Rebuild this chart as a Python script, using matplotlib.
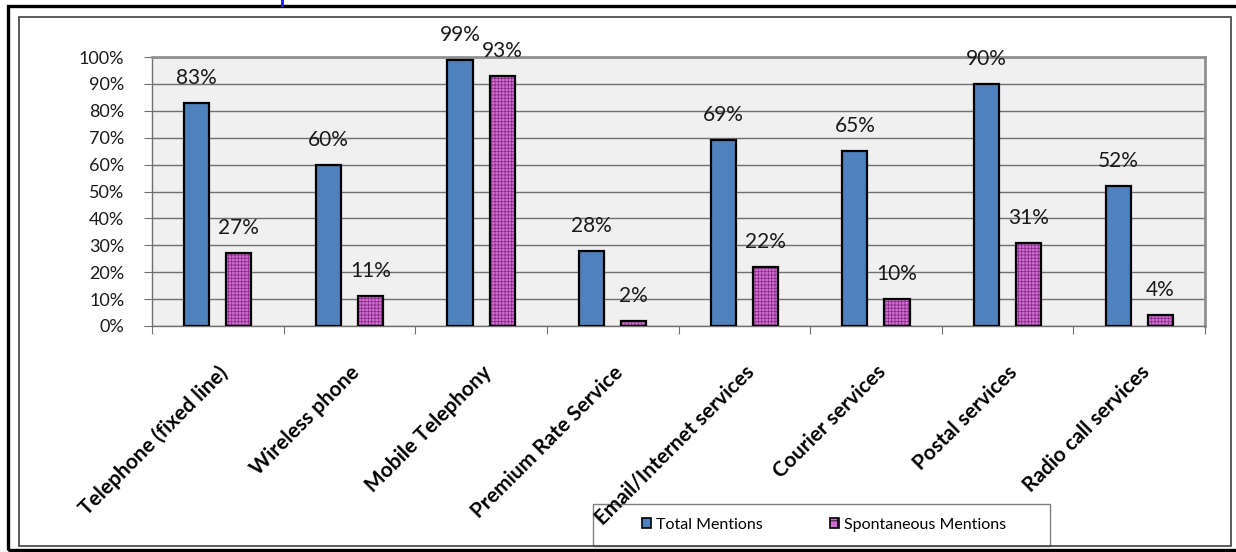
import matplotlib.pyplot as plt
import numpy as np
from matplotlib.patches import Rectangle, Patch
from matplotlib.lines import Line2D

plt.rcParams['font.family'] = ['Lato', 'DejaVu Sans']
plt.rcParams['hatch.linewidth'] = 0.6

# data
categories = ["Telephone (fixed line)", "Wireless phone", "Mobile Telephony",
              "Premium Rate Service", "Email/Internet services", "Courier services",
              "Postal services", "Radio call services"]
total_mentions = [83, 60, 99, 28, 69, 65, 90, 52]
spontaneous_mentions = [27, 11, 93, 2, 22, 10, 31, 4]
series_names = ["Total Mentions", "Spontaneous Mentions"]

W, H = 1236, 552
fig = plt.figure(figsize=(W / 100, H / 100), dpi=100)

# legend box (drawn beneath the axes so the tick labels overlap it)
fig.patches.append(Rectangle((593 / W, 1 - 546 / H), (1050 - 593) / W, (546 - 504) / H,
                             transform=fig.transFigure, facecolor='white',
                             edgecolor='#808080', linewidth=1.0, zorder=-2))

# frames around the whole chart
fig.patches.append(Rectangle((8 / W, 1 - 550 / H), (1240 - 8) / W, (550 - 6) / H,
                             transform=fig.transFigure, fill=False,
                             edgecolor='black', linewidth=2.4, zorder=-1))
fig.patches.append(Rectangle((19 / W, 1 - 546 / H), (1231 - 19) / W, (546 - 17) / H,
                             transform=fig.transFigure, fill=False,
                             edgecolor='#404040', linewidth=1.2, zorder=-1))
fig.lines.append(Line2D([282 / W, 282 / W], [1.0, 1 - 5 / H], transform=fig.transFigure,
                        color='#1a1aff', linewidth=2))

ax = fig.add_axes([152 / W, 1 - 326 / H, (1205 - 152) / W, (326 - 57) / H])
ax.set_facecolor('#F0F0F0')

x = np.arange(len(categories)) + 0.5
bw = 0.19
off = 0.16

ax.bar(x - off, total_mentions, bw, color='#4F81BD', edgecolor='black',
       linewidth=1.6, zorder=3)
ax.bar(x + off, spontaneous_mentions, bw, color='#D070D0', edgecolor='#8B2D8B',
       linewidth=0, hatch='+++++', zorder=3)
ax.bar(x + off, spontaneous_mentions, bw, fill=False, edgecolor='black',
       linewidth=1.6, zorder=4)

for xi, v in zip(x - off, total_mentions):
    ax.annotate(f"{v}%", (xi, v), xytext=(0, 15), textcoords='offset pixels',
                ha='center', va='bottom', fontsize=15, color='#1a1a1a')
for xi, v in zip(x + off, spontaneous_mentions):
    ax.annotate(f"{v}%", (xi, v), xytext=(0, 15), textcoords='offset pixels',
                ha='center', va='bottom', fontsize=15, color='#1a1a1a')

ax.set_xlim(0, len(categories))
ax.set_ylim(0, 100)
ax.set_yticks(range(0, 101, 10))
ax.set_yticklabels([f"{t}%" for t in range(0, 101, 10)], fontsize=13, color='#1a1a1a')
ax.yaxis.grid(True, color='#707070', linewidth=1.0, zorder=0)
ax.set_axisbelow(True)

ax.set_xticks(np.arange(len(categories) + 1))
ax.set_xticklabels([])
ax.set_xticks(x, minor=True)
ax.set_xticklabels(categories, minor=True, rotation=45, ha='right',
                   rotation_mode='anchor', fontsize=15, fontweight='bold')
ax.tick_params(axis='x', which='minor', length=0, pad=26)
ax.tick_params(axis='x', which='major', length=6, color='#707070')
ax.tick_params(axis='y', length=6, color='#707070', pad=14)

for s in ['left', 'bottom']:
    ax.spines[s].set_color('#707070')
    ax.spines[s].set_linewidth(1.0)
for s in ['top', 'right']:
    ax.spines[s].set_color('#909090')
    ax.spines[s].set_linewidth(2.0)

handles = [Patch(facecolor='#4F81BD', edgecolor='black', linewidth=1.2),
           Patch(facecolor='#D070D0', edgecolor='black', linewidth=1.2, hatch='++')]
fig.legend(handles, series_names, loc='center', bbox_to_anchor=(824 / W, 1 - 525 / H),
           ncol=2, frameon=False, fontsize=11.5, handlelength=0.6, handleheight=0.6,
           handletextpad=0.3, columnspacing=4.2)

fig.savefig('out.png', dpi=100)
